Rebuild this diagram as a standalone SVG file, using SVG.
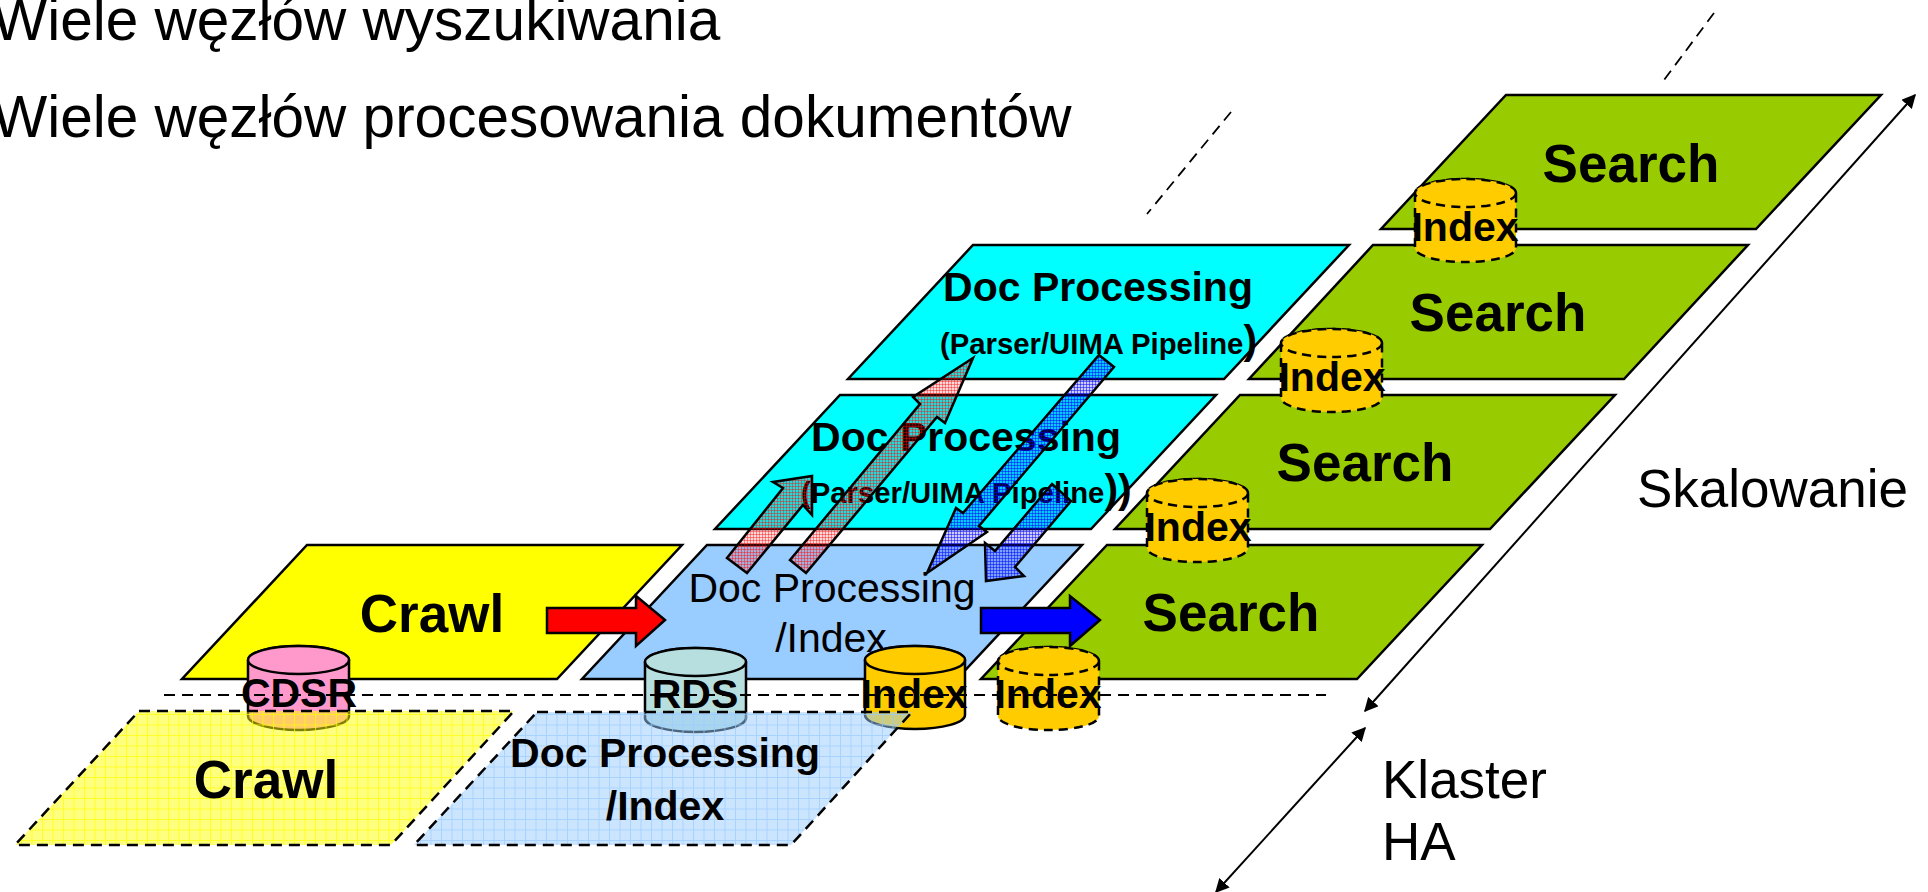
<svg xmlns="http://www.w3.org/2000/svg" width="1928" height="892" viewBox="0 0 1928 892">
<style>
text{font-family:"Liberation Sans",Arial,sans-serif;fill:#000}
.b{font-weight:bold;font-size:41px;text-anchor:middle}
.s{font-weight:bold;font-size:53px;text-anchor:middle}
.r{font-size:53px}
.r41{font-size:41px;text-anchor:middle}
.t{font-size:58.500px}
.p{stroke:#000;stroke-width:2.5;stroke-linejoin:miter}
.d{stroke:#000;stroke-width:2.5;stroke-dasharray:11 7;fill-opacity:1}
.thin{stroke:#000;stroke-width:2;fill:none}
.dash{stroke:#000;stroke-width:1.8;stroke-dasharray:11 7;fill:none}
.cyl{stroke:#000;stroke-width:2.5}
.cd{stroke:#000;stroke-width:2.5;stroke-dasharray:9 6}
.ar{stroke:#000;stroke-width:2.5;stroke-linejoin:miter}
</style>
<defs>
<pattern id="py" width="10.5" height="10.5" patternUnits="userSpaceOnUse"><rect width="10.5" height="10.5" fill="#ffff00" fill-opacity=".5"/><path d="M0 .5H10.5M.5 0V10.5" stroke="#ffff00" stroke-width="1" stroke-opacity=".7"/></pattern>
<pattern id="pb" width="10.5" height="10.5" patternUnits="userSpaceOnUse"><rect width="10.5" height="10.5" fill="#99ccff" fill-opacity=".5"/><path d="M0 .5H10.5M.5 0V10.5" stroke="#99ccff" stroke-width="1" stroke-opacity=".7"/></pattern>
<pattern id="pr" width="3" height="3" patternUnits="userSpaceOnUse"><rect width="3" height="3" fill="#ff0000" fill-opacity=".15"/><path d="M0 .5H3M.5 0V3" stroke="#ff0000" stroke-width="1" stroke-opacity=".4"/></pattern>
<pattern id="pu" width="3" height="3" patternUnits="userSpaceOnUse"><rect width="3" height="3" fill="#0000ff" fill-opacity=".2"/><path d="M0 .5H3M.5 0V3" stroke="#0000ff" stroke-width="1" stroke-opacity=".5"/></pattern>
<marker id="ah" viewBox="0 0 10 10" refX="9" refY="5" markerWidth="14" markerHeight="14" markerUnits="userSpaceOnUse" orient="auto-start-reverse"><path d="M0 0L10 5L0 10Z" fill="#000"/></marker>
</defs>

<g id="title"><text class="t" x="-8" y="40">Wiele węzłów wyszukiwania</text><text class="t" x="-8" y="137">Wiele węzłów procesowania dokumentów</text></g>

<g id="search4"><polygon class="p" fill="#99cc00" points="1506,95 1881,95 1756,229 1381,229"/><text class="s" x="1631" y="182">Search</text></g>
<g id="search3"><polygon class="p" fill="#99cc00" points="1373,245 1748,245 1624,379 1249,379"/><text class="s" x="1498" y="331">Search</text></g>
<g id="search2"><polygon class="p" fill="#99cc00" points="1240,395 1615,395 1490,529 1115,529"/><text class="s" x="1365" y="481">Search</text></g>
<g id="search1"><polygon class="p" fill="#99cc00" points="1107,545 1482,545 1357,679 981,679"/><text class="s" x="1231" y="631">Search</text></g>

<g id="docproc2"><polygon class="p" fill="#00ffff" points="973,245 1349,245 1224,379 848,379"/><text class="b" x="1098" y="301">Doc Processing</text><text x="940" y="354" font-weight="bold" font-size="29.300px">(Parser/UIMA Pipeline<tspan font-size="41px">)</tspan></text></g>
<g id="docproc1"><polygon class="p" fill="#00ffff" points="840,395 1216,395 1091,529 715,529"/><text class="b" x="966" y="451">Doc Processing</text><text x="801" y="503" font-weight="bold" font-size="29.300px">(Parser/UIMA Pipeline<tspan font-size="41px">))</tspan></text></g>
<g id="docindex"><polygon class="p" fill="#99ccff" points="707,545 1082,545 957,679 582,679"/><text class="r41" x="832" y="602">Doc Processing</text><text class="r41" x="831" y="652">/Index</text></g>
<g id="crawl"><polygon class="p" fill="#ffff00" points="307,545 682,545 557,679 182,679"/><text class="s" x="432" y="632">Crawl</text></g>

<g id="connectors">
<polygon class="ar" fill="url(#pr)" points="727,558 747,573 803,505 812,515 812,476 773,482 783,488"/>
<polygon class="ar" fill="url(#pr)" points="790,560 806,573 937,417 945,423 973,358 913,397 920,404"/>
<polygon class="ar" fill="url(#pu)" points="1099,355 1114,367 979,526 987,532 927,573 956,508 963,513"/>
<polygon class="ar" fill="url(#pu)" points="1052,484 1071,501 1015,567 1024,576 986,581 985,543 995,551"/>
<polygon class="ar" fill="#ff0000" points="547,608 636,608 636,596 665,620 636,646 636,633 547,633"/>
<polygon class="ar" fill="#0000ff" points="981,608 1070,608 1070,596 1100,620 1070,646 1070,633 981,633"/>
<path class="thin" d="M1365 711L1915 95" marker-start="url(#ah)" marker-end="url(#ah)"/>
<path class="thin" d="M1365 728L1216 892" marker-start="url(#ah)" marker-end="url(#ah)"/>
<path class="dash" d="M1714 13L1664 80"/>
<path class="dash" d="M1231 112L1147 214"/>
</g>

<g id="cdsr"><path class="cyl" fill="#ff99cc" d="M248 660V716A50.5 14 0 0 0 349 716V660A50.5 14 0 0 0 248 660Z"/><ellipse class="cyl" fill="#ff99cc" cx="298.500" cy="660" rx="50.500" ry="14"/><text class="b" x="299" y="707">CDSR</text></g>
<g id="rds"><path class="cyl" fill="#b8dfdf" d="M645 662V718A50.5 14 0 0 0 746 718V662A50.5 14 0 0 0 645 662Z"/><ellipse class="cyl" fill="#b8dfdf" cx="695.500" cy="662" rx="50.500" ry="14"/><text class="b" x="695" y="708">RDS</text></g>
<g id="index1"><path class="cyl" fill="#ffcc00" d="M865 660V715A50 14 0 0 0 965 715V660A50 14 0 0 0 865 660Z"/><ellipse class="cyl" fill="#ffcc00" cx="915" cy="660" rx="50" ry="14"/><text class="b" x="914" y="708">Index</text></g>
<g id="index2"><path class="cd" fill="#ffcc00" d="M998 661V716A50.500 14 0 0 0 1099 716V661A50.500 14 0 0 0 998 661Z"/><ellipse class="cd" fill="#ffcc00" cx="1048.500" cy="661" rx="50.500" ry="14"/><text class="b" x="1048" y="708">Index</text></g>
<g id="index3"><path class="cd" fill="#ffcc00" d="M1147 493V548A50.500 14 0 0 0 1248 548V493A50.500 14 0 0 0 1147 493Z"/><ellipse class="cd" fill="#ffcc00" cx="1197.500" cy="493" rx="50.500" ry="14"/><text class="b" x="1198" y="541">Index</text></g>
<g id="index4"><path class="cd" fill="#ffcc00" d="M1281 343V398A50.500 14 0 0 0 1382 398V343A50.500 14 0 0 0 1281 343Z"/><ellipse class="cd" fill="#ffcc00" cx="1331.500" cy="343" rx="50.500" ry="14"/><text class="b" x="1332" y="391">Index</text></g>
<g id="index5"><path class="cd" fill="#ffcc00" d="M1415 193V248A50.500 14 0 0 0 1516 248V193A50.500 14 0 0 0 1415 193Z"/><ellipse class="cd" fill="#ffcc00" cx="1465.500" cy="193" rx="50.500" ry="14"/><text class="b" x="1465" y="241">Index</text></g>

<g id="divider"><path class="dash" d="M164 695H1326"/></g>

<g id="crawl-ha"><polygon class="d" fill="url(#py)" points="139,711 514,711 391,845 15,845"/><text class="s" x="266" y="798">Crawl</text></g>
<g id="docindex-ha"><polygon class="d" fill="url(#pb)" points="537,712 912,712 791,845 414,845"/><text class="b" x="665" y="767">Doc Processing</text><text class="b" x="665" y="820">/Index</text></g>

<g id="labels"><text class="r" x="1637" y="507">Skalowanie</text><text class="r" x="1382" y="798">Klaster</text><text class="r" x="1382" y="860">HA</text></g>
</svg>
